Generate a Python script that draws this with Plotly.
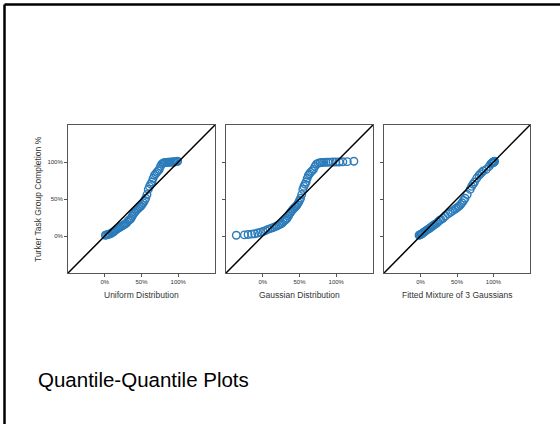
import plotly.graph_objects as go

# Sample quantiles (Turker task group completion %), shared by all panels
completion = [1, 1.5, 2, 2.5, 3, 4, 5, 6, 7.5, 9,
              10, 11, 12, 13, 14, 15, 16, 17, 19, 21,
              22, 24, 27, 30, 32, 34, 36, 37.5, 39, 40.5,
              42.5, 45, 48, 51, 56, 63, 67, 70, 73, 78,
              82, 84, 86, 88, 90, 94, 97, 98.5, 99, 99.3,
              99.5, 99.6, 99.7, 99.8, 100, 100, 100, 100.3, 100.5, 101]

# Theoretical quantiles for each reference distribution
uniform_q = [0.8, 2.5, 4.2, 5.8, 7.5, 9.2, 10.8, 12.5, 14.2, 15.8,
             17.5, 19.2, 20.8, 22.5, 24.2, 25.8, 27.5, 29.2, 30.8, 32.5,
             34.2, 35.8, 37.5, 39.2, 40.8, 42.5, 44.2, 45.8, 47.5, 49.2,
             50.8, 52.5, 54.2, 55.8, 57.5, 59.2, 60.8, 62.5, 64.2, 65.8,
             67.5, 69.2, 70.8, 72.5, 74.2, 75.8, 77.5, 79.2, 80.8, 82.5,
             84.2, 85.8, 87.5, 89.2, 90.8, 92.5, 94.2, 95.8, 97.5, 99.2]
gaussian_q = [-36, -25, -20, -15, -11, -7, -3, 0.5, 4, 7,
              10, 13, 15.5, 18, 20, 22, 24, 26, 28, 30,
              31.5, 33, 35, 36.5, 38, 39.5, 41, 42.5, 44, 45.5,
              47, 48.5, 50, 51.5, 53, 54.5, 56, 57.5, 59, 60.5,
              62, 63.5, 65, 67, 69, 71, 73, 75.5, 78, 80.5,
              83, 86, 89, 92, 95.5, 99.5, 104, 109, 115, 124]
mixture_q = [-2, -1, 0, 1, 2, 3, 4.5, 6, 8, 10,
             12, 13, 14.5, 16, 17, 18.5, 20, 22, 24, 26,
             28, 31, 34, 38, 41, 44, 47, 49, 51, 53,
             55, 57, 59, 61, 64, 68, 70, 72, 74, 77,
             80, 82, 84, 86, 90, 94, 96, 97.5, 98.5, 99,
             99.3, 99.6, 99.8, 100, 100.2, 100.4, 100.6, 100.8, 101, 101.5]

panel_titles = ["Uniform Distribution", "Gaussian Distribution", "Fitted Mixture of 3 Gaussians"]
y_title = "Turker Task Group Completion %"
slide_title = "Quantile-Quantile Plots"
axis_range = [-50, 150]
tick_vals = [0, 50, 100]
tick_text = ["0%", "50%", "100%"]

W, H = 560, 424
FONT = "Liberation Sans, Arial, sans-serif"
BLUE = "#2b7bba"

# panel pixel boxes (left, right), shared top/bottom
px_boxes = [(68, 215), (226, 373), (384, 530)]
top_px, bot_px = 125, 273

fig = go.Figure()
series = [uniform_q, gaussian_q, mixture_q]
layout = dict(
    width=W, height=H,
    margin=dict(l=0, r=0, t=0, b=0),
    paper_bgcolor="white", plot_bgcolor="white",
    showlegend=False,
    font=dict(family=FONT, color="#333"),
)
annotations = []
for i, (xs, (l, r)) in enumerate(zip(series, px_boxes)):
    k = "" if i == 0 else str(i + 1)
    fig.add_trace(go.Scatter(
        x=xs, y=completion, mode="markers",
        marker=dict(symbol="circle-open", size=7.5, color=BLUE, line=dict(width=1.4, color=BLUE)),
        xaxis="x" + k, yaxis="y" + k, hoverinfo="x+y"))
    fig.add_trace(go.Scatter(
        x=axis_range, y=axis_range, mode="lines",
        line=dict(color="black", width=1.5),
        xaxis="x" + k, yaxis="y" + k, hoverinfo="skip"))
    common = dict(range=axis_range, tickvals=tick_vals, ticktext=tick_text,
                  ticks="outside", ticklen=3, tickcolor="#555", tickwidth=1,
                  showline=True, linecolor="#555", linewidth=1, mirror=True,
                  showgrid=False, zeroline=False,
                  tickfont=dict(size=6, color="#333", family=FONT))
    layout["xaxis" + k] = dict(common, domain=[l / W, r / W], anchor="y" + k)
    layout["yaxis" + k] = dict(common, domain=[1 - bot_px / H, 1 - top_px / H],
                               anchor="x" + k, showticklabels=(i == 0))
    annotations.append(dict(
        text=panel_titles[i], x=(l + r) / 2 / W, y=1 - 295 / H,
        xref="paper", yref="paper", showarrow=False,
        xanchor="center", yanchor="middle",
        font=dict(size=8.5, color="#333", family=FONT)))

annotations.append(dict(
    text=y_title, x=38 / W, y=1 - 199 / H, xref="paper", yref="paper",
    showarrow=False, textangle=-90, xanchor="center", yanchor="middle",
    font=dict(size=8.5, color="#333", family=FONT)))
annotations.append(dict(
    text=slide_title, x=36 / W, y=1 - 379 / H, xref="paper", yref="paper",
    showarrow=False, xanchor="left", yanchor="middle",
    font=dict(size=20.5, color="black", family=FONT)))
layout["annotations"] = annotations
layout["shapes"] = [
    dict(type="line", xref="paper", yref="paper", x0=4.5 / W, x1=1.01, y0=1 - 4.5 / H, y1=1 - 4.5 / H,
         line=dict(color="black", width=2.5)),
    dict(type="line", xref="paper", yref="paper", x0=4.5 / W, x1=4.5 / W, y0=-0.01, y1=1 - 4.5 / H,
         line=dict(color="black", width=2.5)),
]
fig.update_layout(**layout)
fig.write_html(
    "out.html",
    config={"displayModeBar": False},
    post_script="document.body.style.margin='0';document.body.style.overflow='hidden';",
)
